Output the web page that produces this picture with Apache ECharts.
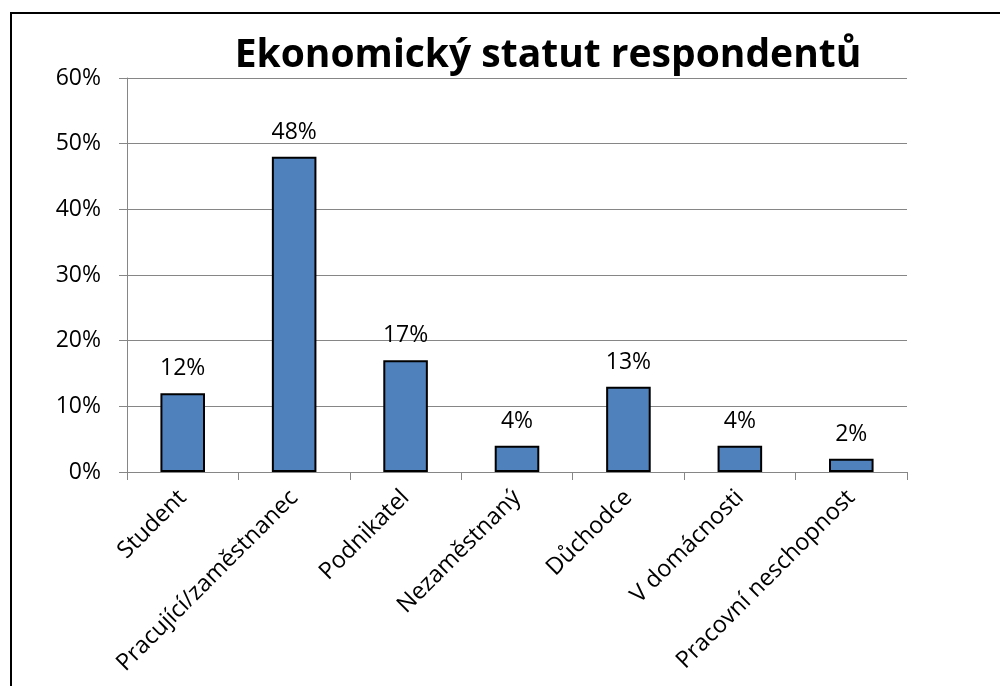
<!DOCTYPE html>
<html>
<head>
<meta charset="utf-8">
<script src="https://cdn.jsdelivr.net/npm/echarts@6/dist/echarts.min.js"></script>
<style>
html,body{margin:0;padding:0;background:#fff;}
#chart{width:1000px;height:686px;}
</style>
</head>
<body>
<div id="chart"></div>
<script>
var categories = ['Student', 'Pracující/zaměstnanec', 'Podnikatel', 'Nezaměstnaný', 'Důchodce', 'V domácnosti', 'Pracovní neschopnost'];
var values = [12, 48, 17, 4, 13, 4, 2];
var titleText = 'Ekonomický statut respondentů';

var FONT = '"Open Sans", sans-serif';
var chart = echarts.init(document.getElementById('chart'), null, {renderer: 'canvas'});
chart.setOption({
  animation: false,
  backgroundColor: '#fff',
  title: {
    text: titleText,
    left: 543,
    top: 31,
    textAlign: 'center',
    textStyle: {fontFamily: FONT, fontSize: 39, fontWeight: 'bold', color: '#000'}
  },
  graphic: [{
    type: 'rect',
    shape: {x: 11, y: 13, width: 1010, height: 700},
    style: {fill: 'none', stroke: '#000', lineWidth: 2},
    silent: true
  }],
  grid: {left: 127, right: 93, top: 78, bottom: 214, containLabel: false},
  xAxis: {
    type: 'category',
    data: categories,
    boundaryGap: true,
    axisLine: {lineStyle: {color: '#868686', width: 1}},
    axisTick: {show: true, length: 8, lineStyle: {color: '#868686'}},
    axisLabel: {
      rotate: 45, interval: 0, margin: 22,
      fontFamily: FONT, fontSize: 23.5, color: '#000'
    }
  },
  yAxis: {
    type: 'value',
    min: 0, max: 60, interval: 10,
    axisLine: {show: true, lineStyle: {color: '#868686', width: 1}},
    axisTick: {show: true, length: 8, lineStyle: {color: '#868686'}},
    splitLine: {lineStyle: {color: '#868686', width: 1}},
    axisLabel: {formatter: '{value}%', margin: 26, fontFamily: FONT, fontSize: 23, color: '#000'}
  },
  series: [{
    type: 'bar',
    data: values,
    barWidth: '40%',
    itemStyle: {color: '#4F81BD', borderColor: '#000', borderWidth: 2},
    label: {
      show: true, position: 'top', distance: 13,
      formatter: '{c}%', fontFamily: FONT, fontSize: 23, color: '#000'
    }
  }]
});
</script>
</body>
</html>
